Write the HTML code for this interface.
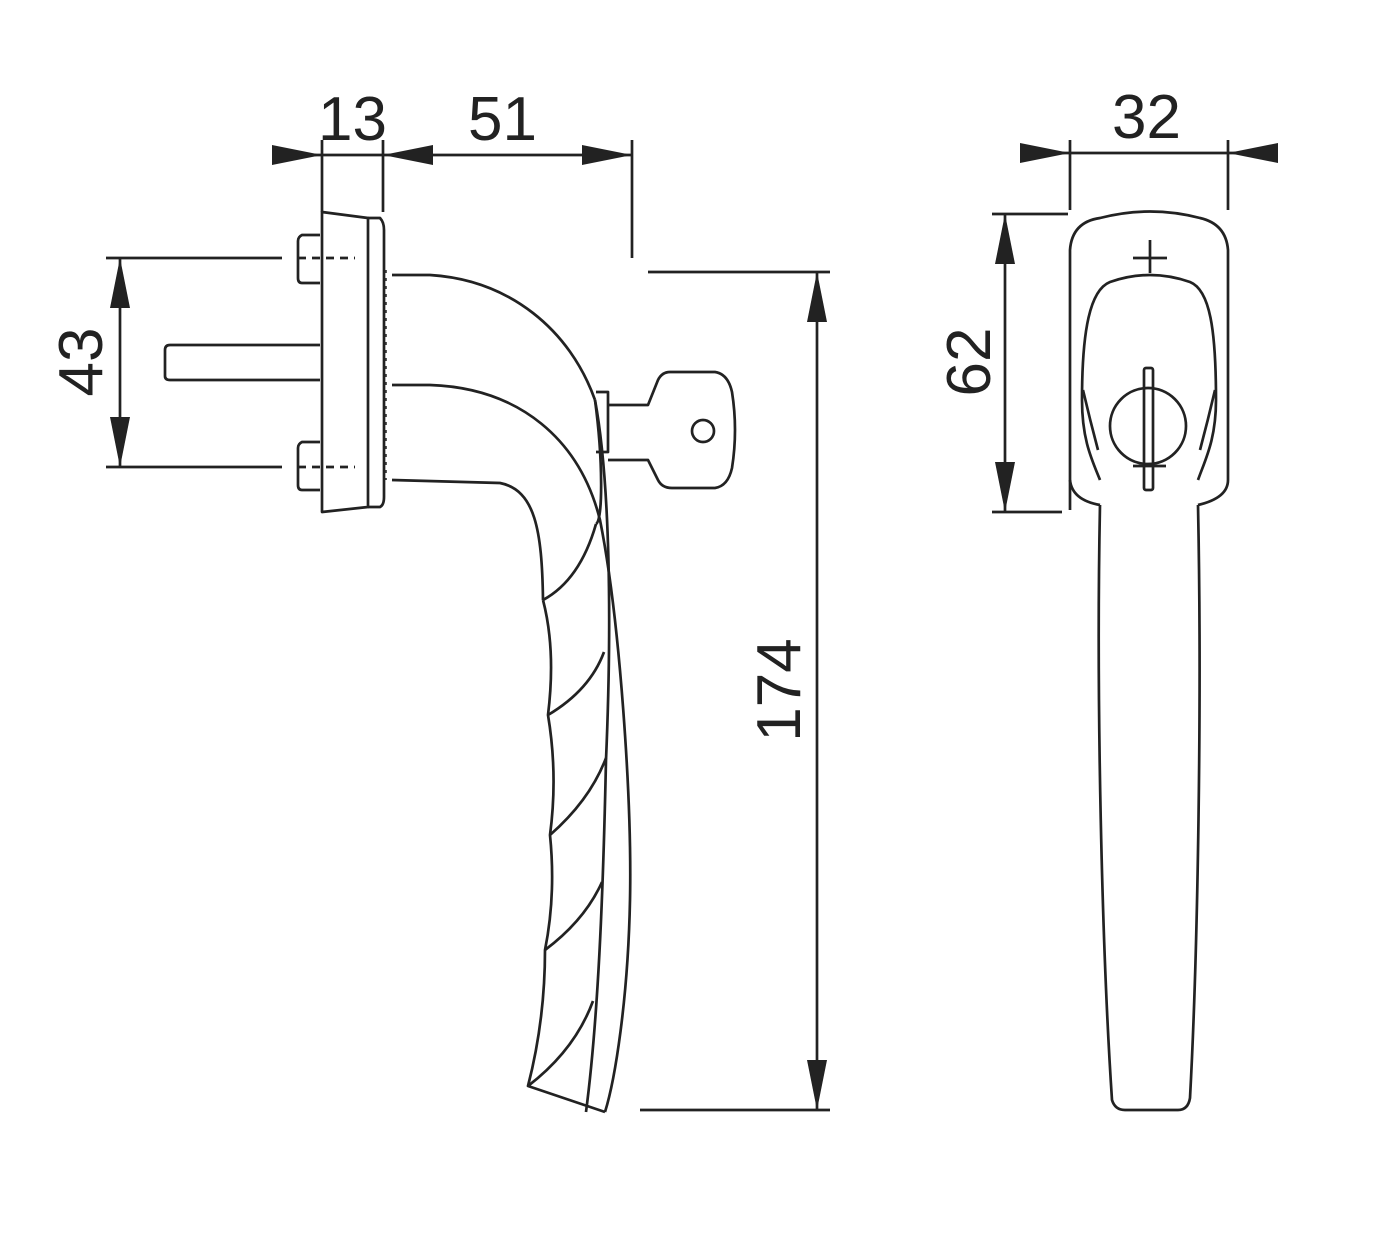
<!DOCTYPE html>
<html><head><style>
html,body{margin:0;padding:0;background:#fff;}
svg{display:block;}
text{font-family:"Liberation Sans",Arial,sans-serif;font-size:62px;fill:#222;}
</style></head><body>
<svg width="1398" height="1242" viewBox="0 0 1398 1242" xmlns="http://www.w3.org/2000/svg">
<g fill="none" stroke="#222" stroke-width="2.7" stroke-linejoin="round">
<line x1="272" y1="155" x2="632" y2="155"/>
<line x1="322" y1="140" x2="322" y2="212"/>
<line x1="383" y1="140" x2="383" y2="212"/>
<line x1="632" y1="140" x2="632" y2="258"/>
<line x1="120" y1="258" x2="120" y2="467"/>
<line x1="106" y1="258" x2="282" y2="258"/>
<line x1="106" y1="467" x2="282" y2="467"/>
<line x1="298" y1="258" x2="355" y2="258" stroke-dasharray="8,6"/>
<line x1="298" y1="467" x2="355" y2="467" stroke-dasharray="8,6"/>
<line x1="817" y1="272" x2="817" y2="1110"/>
<line x1="648" y1="272" x2="830" y2="272"/>
<line x1="640" y1="1110" x2="830" y2="1110"/>
<path d="M322 212 L368 218 L368 507 L322 512 Z"/>
<path d="M368 218 L380 218 Q384 222 384 230 L384 497 Q384 505 380 507 L368 507"/>
<path d="M320 235 L302 235 Q298 237 298 241 L298 278 Q298 283 302 283 L320 283"/>
<path d="M320 442 L302 442 Q298 444 298 448 L298 485 Q298 490 302 490 L320 490"/>
<path d="M320 345 L170 345 Q165 345 165 350 L165 376 Q165 380 170 380 L320 380"/>
<line x1="386" y1="270" x2="386" y2="480" stroke-width="1.5" stroke-dasharray="3,5"/>
<path d="M392 275 L430 275 C510 280 570 330 595 400"/>
<path d="M392 385 L430 385 C520 388 580 440 600 520 C620 620 632 800 630 900 C628 1000 615 1080 605 1112"/>
<path d="M392 480 L500 483 C535 490 542 530 543 600"/>
<path d="M595 400 C603 460 603 520 596 524"/>
<path d="M595 400 C610 480 612 620 606 760 C603 900 598 1020 586 1112"/>
<path d="M543 600 Q556 650 548 715 Q558 775 550 835 Q556 895 545 950 Q545 1020 528 1086 L605 1112"/>
<path d="M543 600 Q580 580 596 524"/>
<path d="M548 715 Q590 690 604 652"/>
<path d="M550 835 Q590 800 606 758"/>
<path d="M545 950 Q585 920 602 882"/>
<path d="M528 1086 Q575 1050 593 1001"/>
<path d="M596 392 L608 392 L608 452 L596 452"/>
<path d="M608 405 L648 405 L658 380 Q662 372 670 372 L715 372 Q728 374 732 392 Q738 430 732 468 Q728 486 715 488 L672 488 Q662 488 658 480 L648 460 L608 460"/>
<circle cx="703" cy="431" r="11"/>
<line x1="1020" y1="153" x2="1278" y2="153"/>
<line x1="1070" y1="140" x2="1070" y2="210"/>
<line x1="1228" y1="140" x2="1228" y2="210"/>
<line x1="1005" y1="214" x2="1005" y2="512"/>
<line x1="992" y1="214" x2="1068" y2="214"/>
<line x1="992" y1="512" x2="1062" y2="512"/>
<path d="M1070 510 L1070 250 Q1072 222 1100 218 Q1150 205 1200 218 Q1226 224 1228 250 L1228 480 Q1228 498 1198 505"/>
<path d="M1070 480 Q1072 500 1100 505"/>
<path d="M1100 505 C1096 700 1102 950 1112 1100 Q1115 1110 1125 1110 L1178 1110 Q1188 1110 1190 1098 C1198 950 1202 700 1198 505"/>
<path d="M1082 400 C1082 330 1090 290 1110 282 Q1150 268 1190 282 C1210 290 1216 330 1216 400 C1216 440 1205 460 1198 480"/>
<path d="M1082 400 C1082 440 1092 460 1100 480"/>
<path d="M1083 390 Q1090 420 1098 450"/>
<path d="M1215 390 Q1208 420 1200 450"/>
<line x1="1150" y1="240" x2="1150" y2="273"/>
<line x1="1133" y1="258" x2="1167" y2="258"/>
<circle cx="1148" cy="426" r="38"/>
<rect x="1144" y="368" width="9" height="122" rx="2"/>
<line x1="1133" y1="466" x2="1166" y2="466"/>
</g>
<g fill="#222">
<polygon points="322,155 272,145 272,165"/>
<polygon points="383,155 433,145 433,165"/>
<polygon points="632,155 582,145 582,165"/>
<polygon points="120,258 110,308 130,308"/>
<polygon points="120,467 110,417 130,417"/>
<polygon points="817,272 807,322 827,322"/>
<polygon points="817,1110 807,1060 827,1060"/>
<polygon points="1070,153 1020,143 1020,163"/>
<polygon points="1228,153 1278,143 1278,163"/>
<polygon points="1005,214 995,264 1015,264"/>
<polygon points="1005,512 995,462 1015,462"/>
</g>
<text x="318" y="140">13</text>
<text x="468" y="140">51</text>
<text x="1112" y="138">32</text>
<text transform="translate(102,362) rotate(-90)" text-anchor="middle">43</text>
<text transform="translate(800,690) rotate(-90)" text-anchor="middle">174</text>
<text transform="translate(990,362) rotate(-90)" text-anchor="middle">62</text>
</svg>
</body></html>
